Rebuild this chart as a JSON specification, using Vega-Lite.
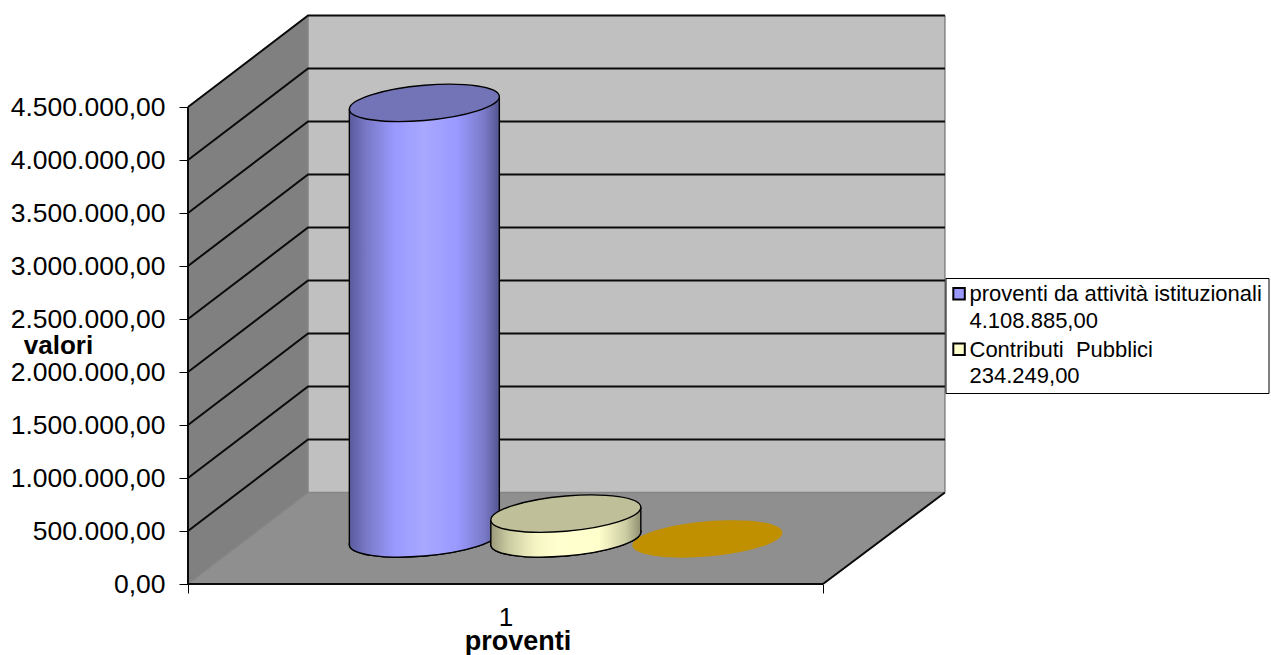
{
  "$schema": "https://vega.github.io/schema/vega-lite/v6.json",
  "width": 1083,
  "height": 569,
  "autosize": "none",
  "padding": {"left": 188, "top": 15, "right": 0, "bottom": 71},
  "background": "#ffffff",
  "config": {
    "font": "Liberation Sans",
    "view": {"stroke": null},
    "locale": {"number": {"decimal": ",", "thousands": ".", "grouping": [3], "currency": ["", " €"]}}
  },
  "datasets": {
    "pareti": [
      {"parete": "fianco", "x": 0, "basso": 0, "alto": 4500000},
      {"parete": "fianco", "x": 0.189, "basso": 863200, "alto": 5363200},
      {"parete": "fondo", "x": 0.189, "basso": 863200, "alto": 5363200},
      {"parete": "fondo", "x": 1.192, "basso": 863200, "alto": 5363200},
      {"parete": "pavimento", "x": 0, "basso": 0, "alto": 0},
      {"parete": "pavimento", "x": 0.189, "basso": 0, "alto": 863200},
      {"parete": "pavimento", "x": 1, "basso": 0, "alto": 863200},
      {"parete": "pavimento", "x": 1.192, "basso": 863200, "alto": 863200}
    ],
    "griglia": [
      {"livello": 500000, "x": 0, "y": 500000}, {"livello": 500000, "x": 0.189, "y": 1363200}, {"livello": 500000, "x": 1.192, "y": 1363200},
      {"livello": 1000000, "x": 0, "y": 1000000}, {"livello": 1000000, "x": 0.189, "y": 1863200}, {"livello": 1000000, "x": 1.192, "y": 1863200},
      {"livello": 1500000, "x": 0, "y": 1500000}, {"livello": 1500000, "x": 0.189, "y": 2363200}, {"livello": 1500000, "x": 1.192, "y": 2363200},
      {"livello": 2000000, "x": 0, "y": 2000000}, {"livello": 2000000, "x": 0.189, "y": 2863200}, {"livello": 2000000, "x": 1.192, "y": 2863200},
      {"livello": 2500000, "x": 0, "y": 2500000}, {"livello": 2500000, "x": 0.189, "y": 3363200}, {"livello": 2500000, "x": 1.192, "y": 3363200},
      {"livello": 3000000, "x": 0, "y": 3000000}, {"livello": 3000000, "x": 0.189, "y": 3863200}, {"livello": 3000000, "x": 1.192, "y": 3863200},
      {"livello": 3500000, "x": 0, "y": 3500000}, {"livello": 3500000, "x": 0.189, "y": 4363200}, {"livello": 3500000, "x": 1.192, "y": 4363200},
      {"livello": 4000000, "x": 0, "y": 4000000}, {"livello": 4000000, "x": 0.189, "y": 4863200}, {"livello": 4000000, "x": 1.192, "y": 4863200},
      {"livello": 4500000, "x": 0, "y": 4500000}, {"livello": 4500000, "x": 0.189, "y": 5363200}, {"livello": 4500000, "x": 1.192, "y": 5363200}
    ],
    "spigoli_grigi": [
      {"spigolo": "fondo-sinistra", "x": 0.189, "y": 863200},
      {"spigolo": "fondo-sinistra", "x": 0.189, "y": 5363200},
      {"spigolo": "fondo-destra", "x": 1.192, "y": 863200},
      {"spigolo": "fondo-destra", "x": 1.192, "y": 5363200},
      {"spigolo": "pavimento-fondo", "x": 0.189, "y": 863200},
      {"spigolo": "pavimento-fondo", "x": 1.192, "y": 863200},
      {"spigolo": "pavimento-fianco", "x": 0, "y": 0},
      {"spigolo": "pavimento-fianco", "x": 0.189, "y": 863200}
    ],
    "spigoli_neri": [
      {"spigolo": "asse-valori", "x": 0, "y": 0},
      {"spigolo": "asse-valori", "x": 0, "y": 4500000},
      {"spigolo": "fronte", "x": 0, "y": 0},
      {"spigolo": "fronte", "x": 1, "y": 0},
      {"spigolo": "diagonale", "x": 1, "y": 0},
      {"spigolo": "diagonale", "x": 1.192, "y": 863200}
    ],
    "cilindri": [
      {"serie": "proventi da attività istituzionali\u00a0\u00a0|4.108.885,00", "valore": 4108885, "x": 0.3722, "base": 430000, "cima": 4538885},
      {"serie": "Contributi \u00a0Pubblici|234.249,00", "valore": 234249, "x": 0.595, "base": 430000, "cima": 664249},
      {"serie": "terza", "valore": 0, "x": 0.818, "base": 425000, "cima": 425000}
    ],
    "fianchi": [
      {"serie": "proventi", "x": 0.2541, "basso": 370600, "alto": 4479485},
      {"serie": "proventi", "x": 0.4903, "basso": 489400, "alto": 4598285},
      {"serie": "contributi", "x": 0.4769, "basso": 370600, "alto": 604849},
      {"serie": "contributi", "x": 0.7131, "basso": 489400, "alto": 723649}
    ]
  },
  "encoding": {
    "x": {
      "field": "x",
      "type": "quantitative",
      "scale": {"domain": [0, 1.70551], "nice": false, "zero": false},
      "axis": {
        "title": "proventi",
        "titleFontSize": 27,
        "titleFontWeight": "bold",
        "titleColor": "#000000",
        "titleX": 329.5,
        "titleY": 65,
        "titleAnchor": "middle",
        "titleBaseline": "alphabetic",
        "values": [0, 0.5, 1],
        "labelExpr": "datum.value === 0.5 ? '1' : ''",
        "labelFontSize": 26,
        "labelColor": "#000000",
        "labelPadding": 11,
        "labelFlush": false,
        "labelOverlap": false,
        "tickSize": 9,
        "tickColor": "#000000",
        "tickOpacity": {"condition": {"test": "datum.value === 0.5", "value": 0}, "value": 1},
        "domain": false,
        "grid": false
      }
    },
    "y": {
      "type": "quantitative",
      "scale": {"domain": [0, 5367925], "nice": false},
      "axis": {
        "title": "valori",
        "titleAngle": 0,
        "titleFontSize": 26,
        "titleFontWeight": "bold",
        "titleColor": "#000000",
        "titleX": -130,
        "titleY": 338,
        "titleAnchor": "middle",
        "titleBaseline": "alphabetic",
        "values": [0, 500000, 1000000, 1500000, 2000000, 2500000, 3000000, 3500000, 4000000, 4500000],
        "format": ",.2f",
        "labelFontSize": 26.5,
        "labelColor": "#000000",
        "labelPadding": 14,
        "labelOverlap": false,
        "tickSize": 9,
        "tickColor": "#000000",
        "domain": false,
        "grid": false
      }
    }
  },
  "layer": [
    {
      "data": {"name": "pareti"},
      "transform": [{"filter": "datum.parete === 'fianco'"}],
      "mark": {"type": "area", "orient": "vertical", "fill": "#808080"},
      "encoding": {"y": {"field": "basso", "type": "quantitative"}, "y2": {"field": "alto"}}
    },
    {
      "data": {"name": "pareti"},
      "transform": [{"filter": "datum.parete === 'fondo'"}],
      "mark": {"type": "area", "orient": "vertical", "fill": "#C0C0C0"},
      "encoding": {"y": {"field": "basso", "type": "quantitative"}, "y2": {"field": "alto"}}
    },
    {
      "data": {"name": "pareti"},
      "transform": [{"filter": "datum.parete === 'pavimento'"}],
      "mark": {"type": "area", "orient": "vertical", "fill": "#8F8F8F"},
      "encoding": {"y": {"field": "basso", "type": "quantitative"}, "y2": {"field": "alto"}}
    },
    {
      "data": {"name": "spigoli_grigi"},
      "mark": {"type": "line", "stroke": "#858585", "strokeWidth": 1.5},
      "encoding": {"y": {"field": "y", "type": "quantitative"}, "detail": {"field": "spigolo"}, "order": {"field": "y"}}
    },
    {
      "data": {"name": "griglia"},
      "mark": {"type": "line", "stroke": "#0a0a0a", "strokeWidth": 2},
      "encoding": {"y": {"field": "y", "type": "quantitative"}, "detail": {"field": "livello"}}
    },
    {
      "data": {"name": "spigoli_neri"},
      "mark": {"type": "line", "stroke": "#0a0a0a", "strokeWidth": 2},
      "encoding": {"y": {"field": "y", "type": "quantitative"}, "detail": {"field": "spigolo"}, "order": {"field": "y"}}
    },
    {
      "data": {"name": "cilindri"},
      "transform": [{"filter": "datum.valore === 0"}],
      "mark": {
        "type": "point", "filled": true, "opacity": 1, "size": 22500, "fill": "#C09000",
        "shape": "M1,-0.084C1,-0.214 0.552,-0.281 0,-0.235C-0.552,-0.189 -1,-0.046 -1,0.084C-1,0.214 -0.552,0.281 0,0.235C0.552,0.189 1,0.046 1,-0.084Z"
      },
      "encoding": {"y": {"field": "base", "type": "quantitative"}}
    },
    {
      "data": {"name": "cilindri"},
      "transform": [{"filter": "datum.valore > 0"}],
      "mark": {
        "type": "point", "filled": true, "opacity": 1, "size": 22500, "stroke": "#000000", "strokeWidth": 1.4,
        "shape": "M1,-0.084C1,-0.214 0.552,-0.281 0,-0.235C-0.552,-0.189 -1,-0.046 -1,0.084C-1,0.214 -0.552,0.281 0,0.235C0.552,0.189 1,0.046 1,-0.084Z"
      },
      "encoding": {
        "y": {"field": "base", "type": "quantitative"},
        "color": {
          "field": "serie",
          "type": "nominal",
          "scale": {
            "domain": ["proventi da attività istituzionali\u00a0\u00a0|4.108.885,00", "Contributi \u00a0Pubblici|234.249,00"],
            "range": ["#9999FF", "#FFFFCC"]
          },
          "legend": {
            "orient": "none",
            "legendX": 757.5,
            "legendY": 263,
            "title": null,
            "padding": 6,
            "fillColor": "#ffffff",
            "strokeColor": "#000000",
            "symbolType": "M-1.6,-1.2H0.4V0.8H-1.6Z",
            "symbolSize": 132,
            "symbolStrokeColor": "#000000",
            "symbolStrokeWidth": 2,
            "symbolOpacity": 1,
            "labelFontSize": 22,
            "labelColor": "#000000",
            "labelBaseline": "alphabetic",
            "labelLimit": 500,
            "labelOffset": -4,
            "rowPadding": 6.5,
            "labelExpr": "split(datum.label, '|')",
            "encoding": {"labels": {"lineHeight": {"value": 26.5}, "dy": {"value": 6}}}
          }
        }
      }
    },
    {
      "data": {"name": "cilindri"},
      "transform": [{"filter": "datum.valore === 4108885"}],
      "mark": {
        "type": "point", "filled": true, "opacity": 1, "size": 22500, "stroke": "#000000", "strokeWidth": 1.4,
        "shape": "M1,-0.084C1,-0.214 0.552,-0.281 0,-0.235C-0.552,-0.189 -1,-0.046 -1,0.084C-1,0.214 -0.552,0.281 0,0.235C0.552,0.189 1,0.046 1,-0.084Z",
        "fill": {"x1": 0, "y1": 0, "x2": 1, "y2": 0, "gradient": "linear", "stops": [
          {"offset": 0, "color": "#5A5A9E"}, {"offset": 0.12, "color": "#7A7AC8"}, {"offset": 0.3, "color": "#9999FF"},
          {"offset": 0.5, "color": "#A8A8FF"}, {"offset": 0.72, "color": "#9999FF"}, {"offset": 0.9, "color": "#7A7AC8"}, {"offset": 1, "color": "#54548F"}
        ]}
      },
      "encoding": {"y": {"field": "base", "type": "quantitative"}}
    },
    {
      "data": {"name": "fianchi"},
      "transform": [{"filter": "datum.serie === 'proventi'"}],
      "mark": {
        "type": "area", "orient": "vertical",
        "fill": {"x1": 0, "y1": 0, "x2": 1, "y2": 0, "gradient": "linear", "stops": [
          {"offset": 0, "color": "#5A5A9E"}, {"offset": 0.12, "color": "#7A7AC8"}, {"offset": 0.3, "color": "#9999FF"},
          {"offset": 0.5, "color": "#A8A8FF"}, {"offset": 0.72, "color": "#9999FF"}, {"offset": 0.9, "color": "#7A7AC8"}, {"offset": 1, "color": "#54548F"}
        ]}
      },
      "encoding": {"y": {"field": "basso", "type": "quantitative"}, "y2": {"field": "alto"}}
    },
    {
      "data": {"name": "fianchi"},
      "transform": [{"filter": "datum.serie === 'proventi'"}],
      "mark": {"type": "rule", "stroke": "#000000", "strokeWidth": 1.4},
      "encoding": {"y": {"field": "basso", "type": "quantitative"}, "y2": {"field": "alto"}}
    },
    {
      "data": {"name": "cilindri"},
      "transform": [{"filter": "datum.valore === 4108885"}],
      "mark": {
        "type": "point", "filled": true, "opacity": 1, "size": 22500, "fill": "#7373B8", "stroke": "#000000", "strokeWidth": 1.4,
        "shape": "M1,-0.084C1,-0.214 0.552,-0.281 0,-0.235C-0.552,-0.189 -1,-0.046 -1,0.084C-1,0.214 -0.552,0.281 0,0.235C0.552,0.189 1,0.046 1,-0.084Z"
      },
      "encoding": {"y": {"field": "cima", "type": "quantitative"}}
    },
    {
      "data": {"name": "cilindri"},
      "transform": [{"filter": "datum.valore === 234249"}],
      "mark": {
        "type": "point", "filled": true, "opacity": 1, "size": 22500, "stroke": "#000000", "strokeWidth": 1.4,
        "shape": "M1,-0.084C1,-0.214 0.552,-0.281 0,-0.235C-0.552,-0.189 -1,-0.046 -1,0.084C-1,0.214 -0.552,0.281 0,0.235C0.552,0.189 1,0.046 1,-0.084Z",
        "fill": {"x1": 0, "y1": 0, "x2": 1, "y2": 0, "gradient": "linear", "stops": [
          {"offset": 0, "color": "#9A9A7A"}, {"offset": 0.12, "color": "#CCCCA3"}, {"offset": 0.3, "color": "#F5F5C4"},
          {"offset": 0.45, "color": "#FFFFCF"}, {"offset": 0.72, "color": "#FFFFCC"}, {"offset": 0.9, "color": "#CCCCA3"}, {"offset": 1, "color": "#8F8F72"}
        ]}
      },
      "encoding": {"y": {"field": "base", "type": "quantitative"}}
    },
    {
      "data": {"name": "fianchi"},
      "transform": [{"filter": "datum.serie === 'contributi'"}],
      "mark": {
        "type": "area", "orient": "vertical",
        "fill": {"x1": 0, "y1": 0, "x2": 1, "y2": 0, "gradient": "linear", "stops": [
          {"offset": 0, "color": "#9A9A7A"}, {"offset": 0.12, "color": "#CCCCA3"}, {"offset": 0.3, "color": "#F5F5C4"},
          {"offset": 0.45, "color": "#FFFFCF"}, {"offset": 0.72, "color": "#FFFFCC"}, {"offset": 0.9, "color": "#CCCCA3"}, {"offset": 1, "color": "#8F8F72"}
        ]}
      },
      "encoding": {"y": {"field": "basso", "type": "quantitative"}, "y2": {"field": "alto"}}
    },
    {
      "data": {"name": "fianchi"},
      "transform": [{"filter": "datum.serie === 'contributi'"}],
      "mark": {"type": "rule", "stroke": "#000000", "strokeWidth": 1.4},
      "encoding": {"y": {"field": "basso", "type": "quantitative"}, "y2": {"field": "alto"}}
    },
    {
      "data": {"name": "cilindri"},
      "transform": [{"filter": "datum.valore === 234249"}],
      "mark": {
        "type": "point", "filled": true, "opacity": 1, "size": 22500, "fill": "#BFBF99", "stroke": "#000000", "strokeWidth": 1.4,
        "shape": "M1,-0.084C1,-0.214 0.552,-0.281 0,-0.235C-0.552,-0.189 -1,-0.046 -1,0.084C-1,0.214 -0.552,0.281 0,0.235C0.552,0.189 1,0.046 1,-0.084Z"
      },
      "encoding": {"y": {"field": "cima", "type": "quantitative"}}
    }
  ]
}
